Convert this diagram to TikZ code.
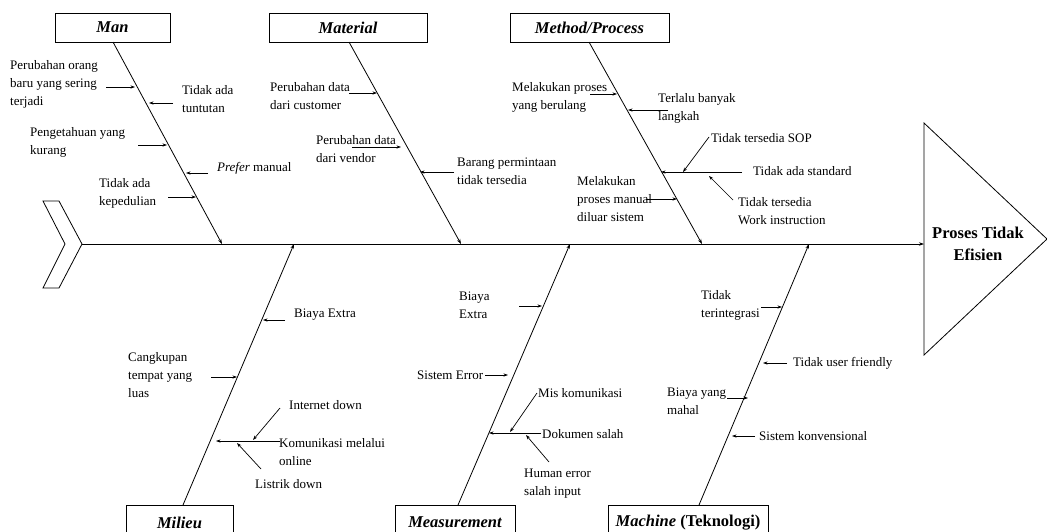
\documentclass[tikz,border=0pt]{standalone}
\usepackage{fontspec}
\setmainfont{Liberation Serif}
\usetikzlibrary{arrows.meta}

% one sub-cause arrow: name, start, end
\newcommand\causearrow[3]{%
  \coordinate (#1-s) at (#2);
  \coordinate (#1-e) at (#3);
  \draw[arr] (#1-s) -- (#1-e);}

\begin{document}
\begin{tikzpicture}[x=1pt,y=-1pt,
  arr/.style={-{Stealth[length=4.5pt,width=3.2pt]}, line width=0.7pt},
  bone/.style={-{Stealth[length=5pt,width=3.4pt]}, line width=0.8pt},
  lbl/.style={font=\fontsize{13}{18}\selectfont, align=left, inner sep=0pt, anchor=west},
  cat/.style={draw, line width=0.9pt, inner sep=0pt, minimum height=29pt,
              font=\fontsize{16.5}{18}\selectfont\bfseries\itshape},
  catb/.style={cat, minimum height=35pt}]

\clip (0,0) rectangle (1047,531);

% fish tail and head
\draw[line width=0.8pt] (43,201) -- (59,201) -- (82,244) -- (59,288) -- (43,288) -- (65,244) -- cycle;
\coordinate (tail) at (82,244);
\draw[line width=0.8pt] (924,123) -- (1047,239) -- (924,355) -- cycle;
\coordinate (head) at (924,244);
\node[font=\fontsize{16.5}{22}\selectfont\bfseries, align=center, inner sep=0pt]
  (effect) at (978,244) {Proses Tidak\\Efisien};

% spine
\draw[bone] (tail) -- (head);

% category boxes
\node[cat, minimum width=115pt] (man) at (112.5,27.5) {Man};
\node[cat, minimum width=158pt] (mat) at (348,27.5) {Material};
\node[cat, minimum width=159pt] (met) at (589.5,27.5) {Method/Process};
\node[catb, minimum width=107pt] (mil) at (179.5,522.5) {Milieu};
\node[catb, minimum width=120pt] (mea) at (455,522.5) {Measurement};
\node[catb, minimum width=160pt] (mac) at (688,522.5) {\textit{Machine} \upshape(Teknologi)};

% main bones
\coordinate (manS) at (113,42);  \coordinate (manE) at (222,244);
\coordinate (matS) at (349,42);  \coordinate (matE) at (461,244);
\coordinate (metS) at (589,42);  \coordinate (metE) at (702,244);
\coordinate (milS) at (183,505); \coordinate (milE) at (294,244);
\coordinate (meaS) at (458,505); \coordinate (meaE) at (570,244);
\coordinate (macS) at (699,505); \coordinate (macE) at (809,244);
\foreach \b in {man,mat,met,mil,mea,mac} \draw[bone] (\b S) -- (\b E);

% Man
\node[lbl] (m1) at (10,84) {Perubahan orang\\baru yang sering\\terjadi};
\node[lbl] (m2) at (182,99) {Tidak ada\\tuntutan};
\node[lbl] (m3) at (30,142) {Pengetahuan yang\\kurang};
\node[lbl] (m4) at (217,168) {\textit{Prefer} manual};
\node[lbl] (m5) at (99,193) {Tidak ada\\kepedulian};
\causearrow{a1}{106,87}{135,87}
\causearrow{a2}{173,103}{149,103}
\causearrow{a3}{138,145}{167,145}
\causearrow{a4}{208,173}{186,173}
\causearrow{a5}{168,197}{196,197}

% Material
\node[lbl] (t1) at (270,96) {Perubahan data\\dari customer};
\node[lbl] (t2) at (316,149.5) {Perubahan data\\dari vendor};
\node[lbl] (t3) at (457,171.5) {Barang permintaan\\tidak tersedia};
\causearrow{b1}{349,93}{377,93}
\causearrow{b2}{352,147}{401,147}
\causearrow{b3}{454,172}{420,172}

% Method/Process
\node[lbl] (p1) at (512,97.5) {Melakukan proses\\yang berulang};
\node[lbl] (p2) at (658,108) {Terlalu banyak\\langkah};
\node[lbl] (p3) at (711,138) {Tidak tersedia SOP};
\node[lbl] (p4) at (753,171) {Tidak ada standard};
\node[lbl] (p5) at (738,211) {Tidak tersedia\\Work instruction};
\node[lbl] (p6) at (577,199.5) {Melakukan\\proses manual\\diluar sistem};
\causearrow{c1}{590,94}{617,94}
\causearrow{c2}{668,110}{628,110}
\causearrow{c3}{742,172}{661,172}
\causearrow{c4}{709,137}{683,172}
\causearrow{c5}{733,200}{709,176}
\causearrow{c6}{646,199}{677,199}

% Milieu
\node[lbl] (l1) at (294,315) {Biaya Extra};
\node[lbl] (l2) at (128,375) {Cangkupan\\tempat yang\\luas};
\node[lbl] (l3) at (289,405) {Internet down};
\node[lbl] (l4) at (279,452) {Komunikasi melalui\\online};
\node[lbl] (l5) at (255,484) {Listrik down};
\causearrow{d1}{285,320}{263,320}
\causearrow{d2}{211,377}{237,377}
\causearrow{d3}{280,441}{216,441}
\causearrow{d4}{280,408}{253,440}
\causearrow{d5}{261,469}{237,443}

% Measurement
\node[lbl] (s1) at (459,305) {Biaya\\Extra};
\node[lbl] (s2) at (417,375) {Sistem Error};
\node[lbl] (s3) at (538,393) {Mis komunikasi};
\node[lbl] (s4) at (542,434) {Dokumen salah};
\node[lbl] (s5) at (524,484) {Human error\\salah input};
\causearrow{e1}{519,306}{542,306}
\causearrow{e2}{485,375}{508,375}
\causearrow{e3}{541,433}{489,433}
\causearrow{e4}{537,393}{510,432}
\causearrow{e5}{549,462}{526,435}

% Machine (Teknologi)
\node[lbl] (k1) at (701,305.5) {Tidak\\terintegrasi};
\node[lbl] (k2) at (793,363) {Tidak user friendly};
\node[lbl] (k3) at (667,401) {Biaya yang\\mahal};
\node[lbl] (k4) at (759,436) {Sistem konvensional};
\causearrow{f1}{761,307}{782,307}
\causearrow{f2}{787,363}{763,363}
\causearrow{f3}{727,398}{748,398}
\causearrow{f4}{755,436}{732,436}
\end{tikzpicture}
\end{document}
